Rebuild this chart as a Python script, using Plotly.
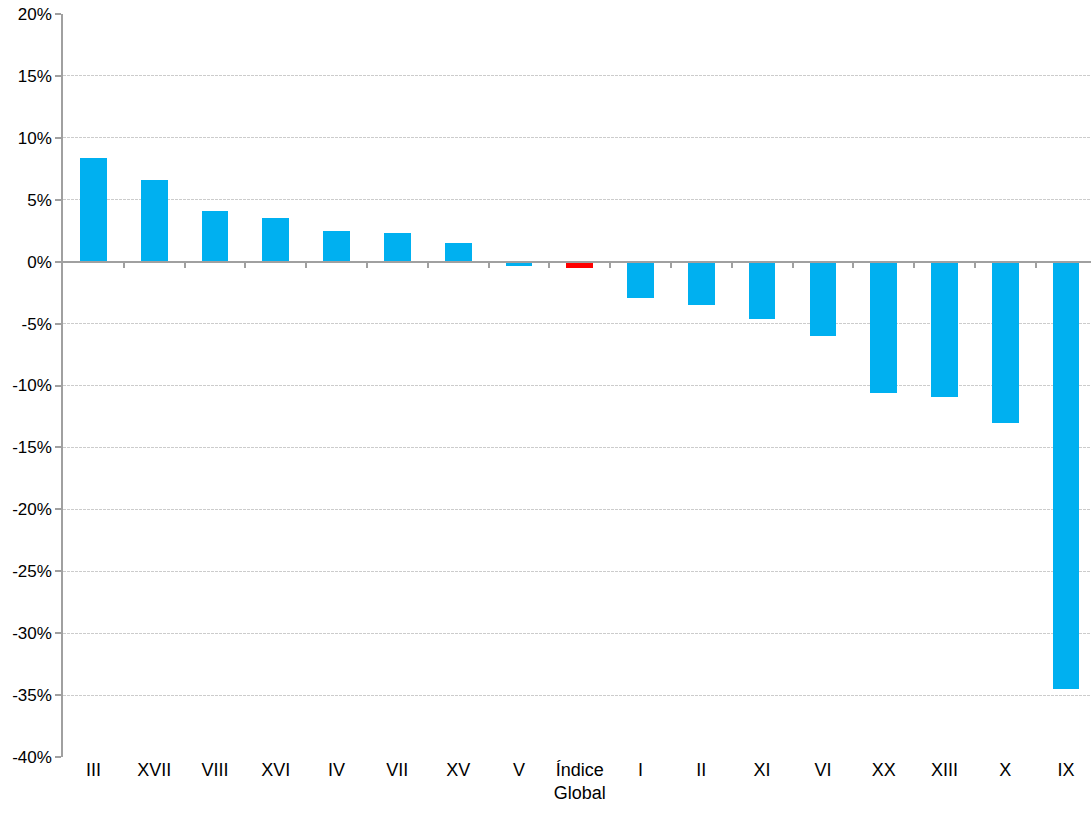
import plotly.graph_objects as go

categories = ["III", "XVII", "VIII", "XVI", "IV", "VII", "XV", "V", "Índice<br>Global",
              "I", "II", "XI", "VI", "XX", "XIII", "X", "IX"]
values = [8.4, 6.6, 4.1, 3.5, 2.5, 2.3, 1.5, -0.35, -0.5,
          -2.9, -3.5, -4.65, -6.0, -10.6, -10.95, -13.0, -34.5]
highlight = "Índice<br>Global"
y_ticks = [20, 15, 10, 5, 0, -5, -10, -15, -20, -25, -30, -35, -40]
y_tick_labels = [f"{v}%" for v in y_ticks]

colors = ["#ff0000" if c == highlight else "#00b0f0" for c in categories]
x_idx = list(range(len(categories)))
boundaries = [i + 0.5 for i in x_idx[:-1]]

fig = go.Figure()
fig.add_trace(go.Bar(x=x_idx, y=values, marker=dict(color=colors, line=dict(width=0)),
                     width=0.44, showlegend=False, hoverinfo="skip"))
# invisible trace to host zero-line axis with boundary ticks
fig.add_trace(go.Scatter(x=x_idx, y=[0] * len(x_idx), xaxis="x2", mode="markers",
                         marker=dict(opacity=0), showlegend=False, hoverinfo="skip"))

font_family = "Liberation Sans, Arial, sans-serif"
ymin, ymax = -40, 20
fig.update_layout(
    width=1091, height=813,
    margin=dict(l=63, r=0, t=14, b=56),
    paper_bgcolor="white", plot_bgcolor="white",
    font=dict(family=font_family, color="#000000"),
    bargap=0,
    xaxis=dict(
        range=[-0.5, 16.41], automargin=False,
        tickmode="array", tickvals=x_idx, ticktext=categories,
        ticks="", showline=False, showgrid=False, zeroline=False,
        tickfont=dict(size=18, family=font_family, color="#000000"),
    ),
    xaxis2=dict(
        range=[-0.5, 16.41], overlaying="x", anchor="free", automargin=False,
        position=(0 - ymin) / (ymax - ymin),
        tickmode="array", tickvals=boundaries,
        showticklabels=False, ticks="outside",
        ticklen=6, tickcolor="#a0a0a0", tickwidth=1.5,
        showline=True, linecolor="#a0a0a0", linewidth=1.5,
        showgrid=False, zeroline=False,
    ),
    yaxis=dict(
        range=[ymin, ymax], automargin=False,
        tickmode="array", tickvals=y_ticks, ticktext=y_tick_labels,
        ticks="outside", ticklen=6, tickcolor="#a0a0a0", tickwidth=1.5,
        showline=True, linecolor="#a0a0a0", linewidth=1.5,
        showgrid=True, gridcolor="#cccccc", griddash="3px,1px", gridwidth=1,
        zeroline=False,
        tickfont=dict(size=17, family=font_family, color="#000000"),
    ),
)

fig.write_html("out.html", config={"displayModeBar": False},
               post_script="document.body.style.margin='0';")
